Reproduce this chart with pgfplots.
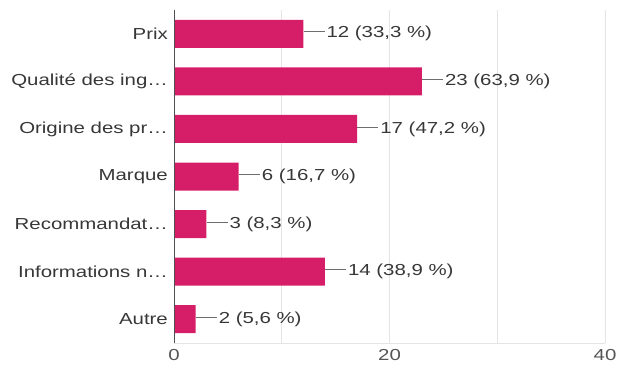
\documentclass[border=0pt]{standalone}
\usepackage{fontspec}
\setmainfont{Liberation Sans}[FakeStretch=1.28]
\usepackage{pgfplots}
\pgfplotsset{compat=1.18}
\definecolor{barc}{RGB}{214,30,104}
\definecolor{lbl}{RGB}{55,55,55}
\definecolor{tlbl}{RGB}{85,85,85}
\definecolor{grd}{RGB}{228,228,228}
\definecolor{lnc}{RGB}{110,110,110}
\definecolor{axc}{RGB}{80,80,80}
\begin{document}
\begin{tikzpicture}
\begin{axis}[
  scale only axis, width=431bp, height=333bp,
  xbar, bar width=28bp,
  xmin=0, xmax=40, ymin=-0.5, ymax=6.5, y dir=reverse,
  ytick={0,1,2,3,4,5,6},
  yticklabels={Prix, Qualité des ing…, Origine des pr…, Marque, Recommandat…, Informations n…, Autre},
  xtick={0,20,40}, minor xtick={10,30},
  xmajorgrids, xminorgrids,
  major grid style={grd, line width=0.9bp},
  minor grid style={grd, line width=0.9bp},
  major tick length=0pt, minor tick length=0pt,
  axis line style={draw=none},
  /pgf/number format/assume math mode=true,
  tick label style={font=\fontsize{16}{18}\selectfont},
  yticklabel style={text=lbl, inner xsep=0pt, xshift=-6bp},
  xticklabel style={text=tlbl, yshift=-3bp},
  point meta=explicit symbolic,
  nodes near coords={\raisebox{0.34em}{\textcolor{lnc}{\rule{21bp}{1bp}}}\hspace{2bp}\pgfplotspointmeta},
  every node near coord/.append style={anchor=west, inner xsep=0pt, text=lbl, font=\fontsize{16}{18}\selectfont},
]
\addplot[fill=barc, draw=none] coordinates {
  (12,0) [{12 (33,3 \%)}]
  (23,1) [{23 (63,9 \%)}]
  (17,2) [{17 (47,2 \%)}]
  (6,3)  [{6 (16,7 \%)}]
  (3,4)  [{3 (8,3 \%)}]
  (14,5) [{14 (38,9 \%)}]
  (2,6)  [{2 (5,6 \%)}]
};
\draw[grd, line width=0.9bp] (axis cs:0,6.5) -- (axis cs:40,6.5);
\draw[axc, line width=1.6bp] (axis cs:0,-0.5) -- (axis cs:0,6.5);
\coordinate (bl) at (axis cs:-16.15,7.089);
\coordinate (tr) at (axis cs:41.11,-0.71);
\end{axis}
\pgfresetboundingbox
\path[use as bounding box] (bl) rectangle (tr);
\end{tikzpicture}
\end{document}
